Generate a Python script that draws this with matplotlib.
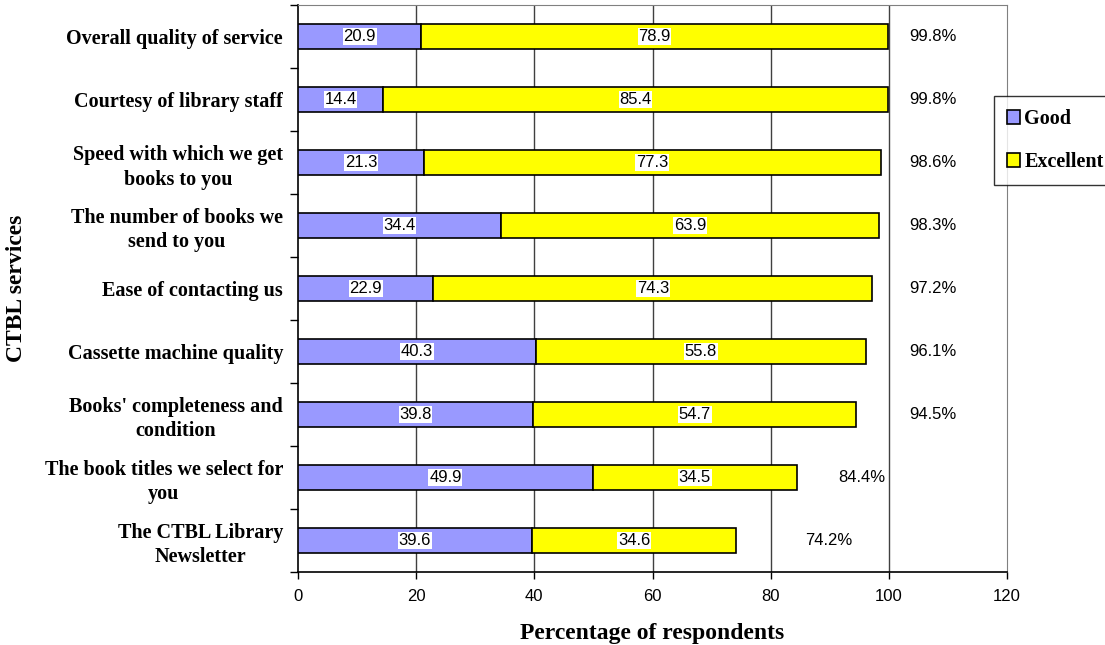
import matplotlib
matplotlib.use("Agg")
import matplotlib.pyplot as plt
import numpy as np

categories = [
    "Overall quality of service",
    "Courtesy of library staff",
    "Speed with which we get\nbooks to you",
    "The number of books we\nsend to you",
    "Ease of contacting us",
    "Cassette machine quality",
    "Books' completeness and\ncondition",
    "The book titles we select for\nyou",
    "The CTBL Library\nNewsletter",
]
good = [20.9, 14.4, 21.3, 34.4, 22.9, 40.3, 39.8, 49.9, 39.6]
excellent = [78.9, 85.4, 77.3, 63.9, 74.3, 55.8, 54.7, 34.5, 34.6]
totals = ["99.8%", "99.8%", "98.6%", "98.3%", "97.2%", "96.1%", "94.5%", "84.4%", "74.2%"]
total_label_x = [107.4, 107.4, 107.4, 107.4, 107.4, 107.4, 107.4, 95.4, 89.8]
x_ticks = [0, 20, 40, 60, 80, 100, 120]

serif = ["Liberation Serif", "DejaVu Serif"]
sans = ["Liberation Sans", "DejaVu Sans"]

fig = plt.figure(figsize=(11.05, 6.45), dpi=100)
ax = fig.add_axes([298 / 1105, 1 - 572 / 645, 709 / 1105, 567 / 645])

n = len(categories)
y = np.arange(n)
h = 0.41
c_good = "#9999FF"
c_exc = "#FFFF00"

ax.barh(y, good, height=h, color=c_good, edgecolor="black", linewidth=1.2,
        label="Good", zorder=3)
ax.barh(y, excellent, left=good, height=h, color=c_exc, edgecolor="black",
        linewidth=1.2, label="Excellent", zorder=3)

box = dict(facecolor="white", edgecolor="none", pad=0.5)
for i in range(n):
    ax.text(good[i] / 2, y[i], f"{good[i]:.1f}", ha="center", va="center",
            fontsize=12, family=sans, bbox=box, zorder=4)
    ax.text(good[i] + excellent[i] / 2, y[i], f"{excellent[i]:.1f}",
            ha="center", va="center", fontsize=12, family=sans, bbox=box,
            zorder=4)
    ax.text(total_label_x[i], y[i], totals[i], ha="center", va="center",
            fontsize=12, family=sans, zorder=4)

ax.set_xlim(0, 120)
ax.set_ylim(n - 0.5, -0.5)
ax.set_xticks(x_ticks)
ax.set_xticklabels([str(t) for t in x_ticks], fontsize=12, family=sans)
ax.tick_params(axis="x", direction="out", length=5, width=1, pad=7)

ax.set_yticks(y)
ax.set_yticklabels(categories, fontsize=14.5, family=serif, fontweight="bold",
                   multialignment="center", linespacing=1.3)
ax.tick_params(axis="y", which="major", length=0, pad=10.8)
ax.set_yticks(np.arange(n + 1) - 0.5, minor=True)
ax.tick_params(axis="y", which="minor", direction="out", length=6, width=1)

for v in x_ticks[1:-1]:
    ax.axvline(v, color="#404040", linewidth=1, zorder=1)

ax.spines["left"].set_color("black")
ax.spines["bottom"].set_color("black")
ax.spines["left"].set_linewidth(1.2)
ax.spines["bottom"].set_linewidth(1.2)
ax.spines["top"].set_color("#808080")
ax.spines["right"].set_color("#808080")

ax.set_xlabel("Percentage of respondents", fontsize=17, family=serif,
              fontweight="bold")
ax.xaxis.set_label_coords(0.5, -(634 - 572) / 567, transform=ax.transAxes)
ax.xaxis.label.set_va("center")
ax.set_ylabel("CTBL services", fontsize=17, family=serif, fontweight="bold")
ax.yaxis.set_label_coords(-(298 - 17) / 709, (572 - 288) / 567)
ax.yaxis.label.set_va("center")

leg = fig.legend(loc="upper left", bbox_to_anchor=(994 / 1105, 1 - 96 / 645),
                 frameon=True, fancybox=False, edgecolor="black",
                 prop={"family": serif, "weight": "bold", "size": 14.5},
                 handlelength=0.65, handleheight=0.65, handletextpad=0.2,
                 labelspacing=1.15, borderpad=0.65, borderaxespad=0)
leg.get_frame().set_linewidth(1)

fig.savefig("out.png", dpi=100)
